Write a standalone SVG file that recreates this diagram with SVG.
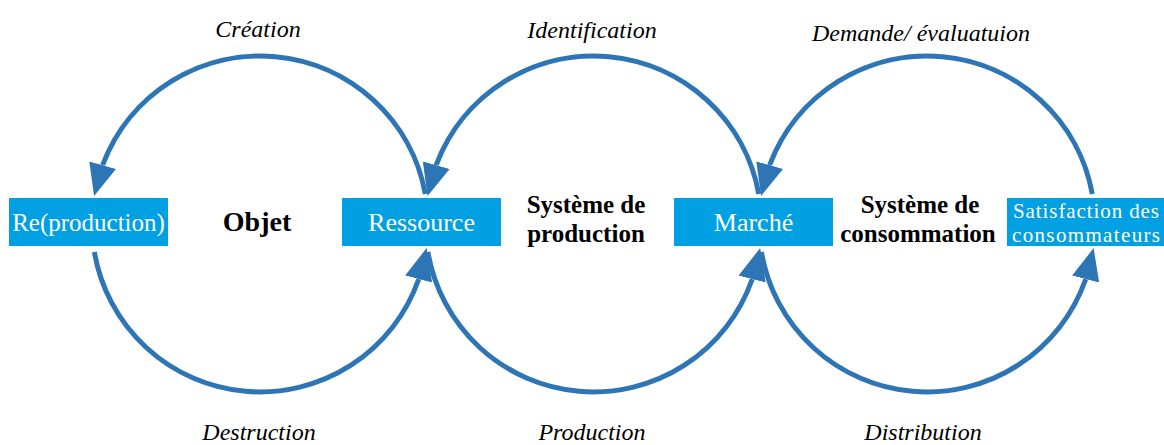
<svg xmlns="http://www.w3.org/2000/svg" width="1164" height="445" viewBox="0 0 1164 445">
<style>
.arc{fill:none;stroke:#2E75B6;stroke-width:5;marker-end:url(#ah)}
.box{fill:#00A0E3}
.bt{font-family:"Liberation Serif",serif;font-size:26px;fill:#fff;text-anchor:middle}
.bs{font-family:"Liberation Serif",serif;font-size:21px;fill:#fff;text-anchor:middle}
.lbl{font-family:"Liberation Serif",serif;font-size:24px;font-style:italic;fill:#000;text-anchor:middle}
.sys{font-family:"Liberation Serif",serif;font-size:25px;font-weight:bold;fill:#000;text-anchor:middle}
</style>
<defs>
<marker id="ah" markerUnits="userSpaceOnUse" markerWidth="32" markerHeight="28" viewBox="0 0 31 27" refX="0" refY="13.5" orient="auto">
<path d="M0,0 L31,13.5 L0,27 z" fill="#2E75B6"/>
</marker>
</defs>
<rect width="1164" height="445" fill="#fff"/>
<g id="connectors">
<path class="arc" d="M425.3 194 A168 168 0 0 0 103 164.2 l-0.27 0.96"/>
<path class="arc" d="M94.4 252 A168 168 0 0 0 418.4 280 l0.25 -0.97"/>
<path class="arc" d="M758.8 194 A168 168 0 0 0 436.5 164.2 l-0.27 0.96"/>
<path class="arc" d="M427.9 252 A168 168 0 0 0 751.9 280 l0.25 -0.97"/>
<path class="arc" d="M1092.3 194 A168 168 0 0 0 770 164.2 l-0.27 0.96"/>
<path class="arc" d="M761.4 252 A168 168 0 0 0 1085.4 280 l0.25 -0.97"/>
</g>
<g id="labels">
<text class="lbl" x="258" y="37">Création</text>
<text class="lbl" x="592" y="38">Identification</text>
<text class="lbl" x="921" y="41">Demande/ évaluatuion</text>
<text class="lbl" x="259" y="440">Destruction</text>
<text class="lbl" x="592" y="440">Production</text>
<text class="lbl" x="923" y="440">Distribution</text>
</g>
<g id="reproduction">
<rect class="box" x="9" y="198" width="159" height="48"/>
<text class="bt" x="88.5" y="231" style="font-size:25px">Re(production)</text>
</g>
<g id="objet">
<text class="sys" x="257" y="231" style="font-size:28px">Objet</text>
</g>
<g id="ressource">
<rect class="box" x="342" y="198" width="159" height="48"/>
<text class="bt" x="421.5" y="231">Ressource</text>
</g>
<g id="systeme-production">
<text class="sys" x="586" y="213">Système de</text>
<text class="sys" x="586" y="242">production</text>
</g>
<g id="marche">
<rect class="box" x="674" y="198" width="159" height="48"/>
<text class="bt" x="753.5" y="231">Marché</text>
</g>
<g id="systeme-consommation">
<text class="sys" x="920" y="213">Système de</text>
<text class="sys" x="918" y="242">consommation</text>
</g>
<g id="satisfaction">
<rect class="box" x="1007" y="198" width="157" height="48"/>
<text class="bs" x="1086" y="218" textLength="146" lengthAdjust="spacing">Satisfaction des</text>
<text class="bs" x="1086" y="242" textLength="148" lengthAdjust="spacing">consommateurs</text>
</g>
</svg>
